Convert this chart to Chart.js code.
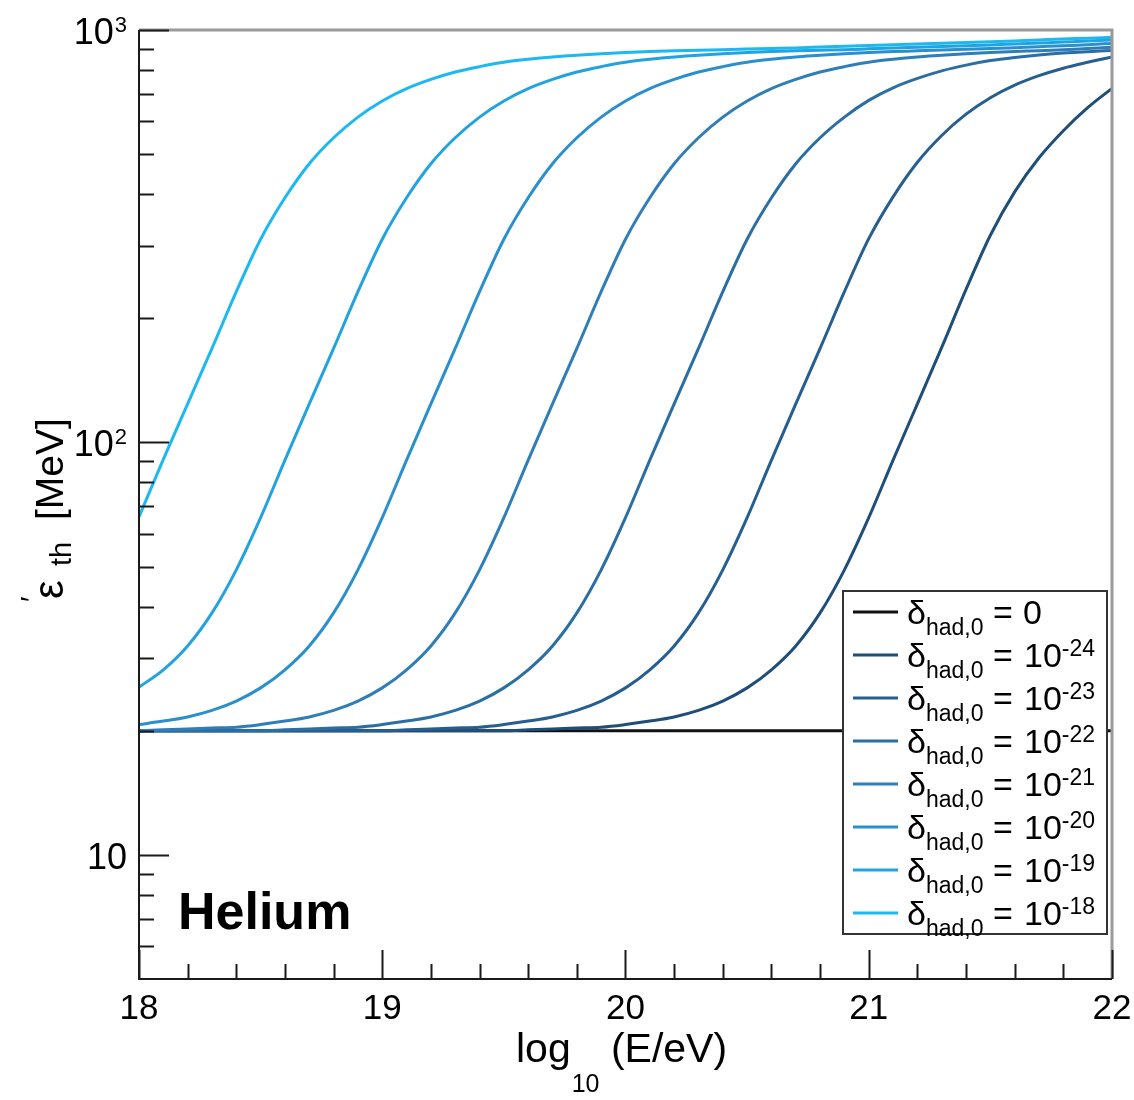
<!DOCTYPE html>
<html>
<head>
<meta charset="utf-8">
<script src="https://cdn.jsdelivr.net/npm/chart.js@4.4.0/dist/chart.umd.min.js"></script>
<style>
  html, body { margin: 0; padding: 0; background: #fff; }
</style>
</head>
<body>
<canvas id="grafica" width="1134" height="1100"></canvas>
<script>
// log10(E/eV)
const logE = [18.0, 18.1, 18.2, 18.3, 18.4, 18.5, 18.6, 18.7, 18.8, 18.9,
  19.0, 19.1, 19.2, 19.3, 19.4, 19.5, 19.6, 19.7, 19.8, 19.9,
  20.0, 20.1, 20.2, 20.3, 20.4, 20.5, 20.6, 20.7, 20.8, 20.9,
  21.0, 21.1, 21.2, 21.3, 21.4, 21.5, 21.6, 21.7, 21.8, 21.9, 22.0];

// eps'_th [MeV] for each delta_had,0
const d0 = [20, 20, 20, 20, 20, 20, 20, 20, 20, 20,
  20, 20, 20, 20, 20, 20, 20, 20, 20, 20,
  20, 20, 20, 20, 20, 20, 20, 20, 20, 20,
  20, 20, 20, 20, 20, 20, 20, 20, 20, 20, 20];
const d24 = [20, 20, 20, 20, 20, 20, 20, 20, 20, 20,
  20, 20, 20, 20, 20, 20, 20.1, 20.2, 20.3, 20.4,
  20.7, 21.1, 21.6, 22.4, 23.6, 25.4, 28.1, 32.1, 38.6, 49.1,
  65.7, 90.6, 124, 170, 235, 318, 405, 490, 570, 648, 722];
const d23 = [20, 20, 20, 20, 20, 20, 20, 20, 20, 20,
  20, 20.1, 20.2, 20.3, 20.4, 20.7, 21.1, 21.6, 22.4, 23.6,
  25.4, 28.1, 32.1, 38.6, 49.1, 65.7, 90.6, 124, 169, 232,
  312, 394, 478, 555, 625, 685, 735, 775, 808, 835, 860];
const d22 = [20, 20, 20, 20, 20, 20, 20.1, 20.2, 20.3, 20.4,
  20.7, 21.1, 21.6, 22.4, 23.6, 25.4, 28.1, 32.1, 38.6, 49.1,
  65.7, 90.6, 124, 169, 232, 311, 392, 474, 548, 615,
  675, 724, 763, 796, 822, 843, 858, 870, 879, 886, 892];
const d21 = [20, 20.1, 20.2, 20.3, 20.4, 20.7, 21.1, 21.6, 22.4, 23.6,
  25.4, 28.1, 32.1, 38.6, 49.1, 65.7, 90.6, 124, 169, 232,
  311, 392, 474, 548, 615, 673, 721, 759, 791, 815,
  835, 849, 860, 868, 876, 882, 887, 891, 896, 902, 908];
const d20 = [20.7, 21.1, 21.6, 22.4, 23.6, 25.4, 28.1, 32.1, 38.6, 49.1,
  65.7, 90.6, 124, 169, 232, 311, 392, 474, 548, 615,
  673, 721, 759, 791, 815, 835, 849, 860, 868, 876,
  882, 887, 890, 894, 898, 902, 906, 911, 916, 921, 928];
const d19 = [25.5, 28.1, 32.1, 38.6, 49.1, 65.7, 90.6, 124, 169, 232,
  311, 392, 474, 548, 615, 673, 721, 759, 791, 815,
  835, 849, 860, 868, 876, 882, 887, 890, 893, 896,
  900, 904, 908, 912, 916, 920, 925, 930, 935, 940, 946];
const d18 = [66, 91, 124, 169, 232, 311, 392, 474, 548, 615,
  673, 721, 759, 791, 815, 835, 849, 860, 868, 876,
  882, 887, 890, 893, 896, 899, 902, 905, 909, 913,
  917, 921, 925, 929, 933, 937, 941, 946, 951, 955, 960];

const series = [d0, d24, d23, d22, d21, d20, d19, d18];
const exponents = ["", "-24", "-23", "-22", "-21", "-20", "-19", "-18"];
const colores = ["#111111", "#1f4e79", "#265f8f", "#2b6ea3", "#2f7eb8", "#2a8fcd", "#22a3e0", "#1cb8f2"];

const xTicks = [18, 19, 20, 21, 22];
const yMajor = [10, 100, 1000];
const yMinor = [6, 7, 8, 9, 20, 30, 40, 50, 60, 70, 80, 90, 200, 300, 400, 500, 600, 700, 800, 900];

const FONT = '"Liberation Sans", Arial, Helvetica, sans-serif';

function f(size, bold) {
  return (bold ? "bold " : "") + size + "px " + FONT;
}

// marco, ticks, etiquetas y leyenda
const marco = {
  id: "marco",
  afterDraw(chart) {
    const { ctx, chartArea: a, scales } = chart;
    const x = scales.x, y = scales.y;
    ctx.save();

    // bordes
    ctx.strokeStyle = "#9a9a9a";
    ctx.lineWidth = 3;
    ctx.beginPath();
    ctx.moveTo(a.left, a.top);
    ctx.lineTo(a.right, a.top);
    ctx.lineTo(a.right, a.bottom);
    ctx.stroke();

    ctx.strokeStyle = "#1a1a1a";
    ctx.lineWidth = 2;
    ctx.beginPath();
    ctx.moveTo(a.left, a.top);
    ctx.lineTo(a.left, a.bottom);
    ctx.lineTo(a.right, a.bottom);
    ctx.stroke();

    // ticks x
    ctx.beginPath();
    for (let v = 18; v <= 22.001; v += 0.2) {
      const px = Math.round(x.getPixelForValue(v)) + 0.5;
      const major = Math.abs(v - Math.round(v)) < 0.01;
      ctx.moveTo(px, a.bottom);
      ctx.lineTo(px, a.bottom - (major ? 29 : 15));
    }
    // ticks y
    yMajor.forEach(v => {
      const py = Math.round(y.getPixelForValue(v)) + 0.5;
      ctx.moveTo(a.left, py);
      ctx.lineTo(a.left + 30, py);
    });
    yMinor.forEach(v => {
      const py = Math.round(y.getPixelForValue(v)) + 0.5;
      ctx.moveTo(a.left, py);
      ctx.lineTo(a.left + 15, py);
    });
    ctx.stroke();

    ctx.fillStyle = "#000";

    // etiquetas x
    ctx.font = f(35);
    ctx.textAlign = "center";
    ctx.textBaseline = "alphabetic";
    xTicks.forEach(v => {
      ctx.fillText(String(v), x.getPixelForValue(v), a.bottom + 40);
    });

    // etiquetas y
    yMajor.forEach(v => {
      const py = y.getPixelForValue(v);
      const p = Math.round(Math.log10(v));
      ctx.textBaseline = "alphabetic";
      ctx.textAlign = "right";
      if (p === 1) {
        ctx.font = f(36);
        ctx.fillText("10", a.left - 12, py + 14);
      } else {
        ctx.font = f(22);
        ctx.fillText(String(p), a.left - 12, py + 2);
        const w = ctx.measureText(String(p)).width;
        ctx.font = f(36);
        ctx.fillText("10", a.left - 13 - w, py + 14);
      }
    });

    // titulo x
    ctx.textAlign = "left";
    ctx.font = f(41);
    let tx = 516;
    ctx.fillText("log", tx, 1062);
    tx += ctx.measureText("log").width + 1;
    ctx.font = f(25);
    ctx.fillText("10", tx, 1092);
    tx += ctx.measureText("10").width;
    ctx.font = f(41);
    ctx.fillText(" (E/eV)", tx, 1062);

    // titulo y
    ctx.save();
    ctx.translate(63, 599);
    ctx.rotate(-Math.PI / 2);
    ctx.font = f(42);
    ctx.fillText("\u03b5", 0, 0);
    ctx.font = f(30);
    ctx.fillText("\u2032", -3, -22);
    ctx.font = f(29);
    ctx.fillText("th", 33, 8);
    ctx.font = f(39);
    ctx.fillText("[MeV]", 79, 0);
    ctx.restore();

    // Helium
    ctx.font = f(52, true);
    ctx.fillText("Helium", 178, 929);

    // leyenda
    const lx = 843, ly = 591, lw = 264, lh = 343;
    ctx.fillStyle = "#fff";
    ctx.fillRect(lx, ly, lw, lh);
    ctx.strokeStyle = "#333";
    ctx.lineWidth = 2;
    ctx.strokeRect(lx, ly, lw, lh);

    series.forEach((s, i) => {
      const ry = 612 + i * 43;
      ctx.strokeStyle = colores[i];
      ctx.lineWidth = 3;
      ctx.beginPath();
      ctx.moveTo(853, ry);
      ctx.lineTo(898, ry);
      ctx.stroke();

      ctx.fillStyle = "#000";
      ctx.textAlign = "left";
      ctx.font = f(34);
      ctx.fillText("\u03b4", 907, ry + 12);
      ctx.font = f(23);
      ctx.fillText("had,0", 926, ry + 23);
      ctx.font = f(34);
      ctx.fillText("=", 993, ry + 12);
      if (exponents[i] === "") {
        ctx.fillText("0", 1023, ry + 12);
      } else {
        ctx.fillText("10", 1024, ry + 12);
        const w = ctx.measureText("10").width;
        ctx.font = f(23);
        ctx.fillText(exponents[i], 1024 + w, ry + 1);
      }
    });

    ctx.restore();
  }
};

const datasets = series.map((s, i) => ({
  data: s.map((v, j) => ({ x: logE[j], y: v })),
  borderColor: colores[i],
  borderWidth: 3,
  pointRadius: 0,
  fill: false,
  cubicInterpolationMode: "monotone",
  order: series.length - i
}));

const ctx = document.getElementById("grafica").getContext("2d");
const chart = new Chart(ctx, {
  type: "line",
  data: { datasets: datasets },
  options: {
    responsive: false,
    animation: false,
    devicePixelRatio: 1,
    layout: { padding: { left: 139, right: 22, top: 30, bottom: 121 } },
    plugins: {
      legend: { display: false },
      tooltip: { enabled: false }
    },
    scales: {
      x: { type: "linear", min: 18, max: 22, display: false },
      y: { type: "logarithmic", min: 5, max: 1000, display: false }
    }
  },
  plugins: [marco]
});
</script>
</body>
</html>
